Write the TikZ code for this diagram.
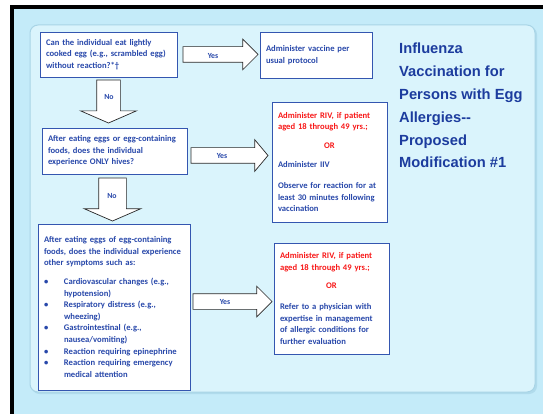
\documentclass[tikz,border=0pt]{standalone}
\usepackage{fontspec}
\setmainfont{Carlito}
\newfontfamily\headfont{Liberation Sans}
\usetikzlibrary{shapes.arrows}

\definecolor{txtblue}{RGB}{40,72,170}
\definecolor{headblue}{RGB}{28,60,158}
\definecolor{boxblue}{RGB}{52,86,176}
\definecolor{alertred}{RGB}{248,24,24}
\definecolor{slidebg}{RGB}{196,235,249}
\definecolor{panelbg}{RGB}{218,244,252}
\definecolor{panelrim}{RGB}{168,212,230}
\definecolor{arrowrim}{RGB}{40,40,40}

\tikzset{
  box/.style={draw=boxblue, line width=0.9pt, fill=white, anchor=north west,
    outer sep=0pt, inner xsep=6pt, inner ysep=0pt, align=left, text=txtblue,
    font=\bfseries\fontsize{8.6}{11.6}\selectfont},
  barrow/.style={single arrow, draw=arrowrim, fill=white, line width=0.7pt,
    outer sep=0pt, minimum width=0pt, anchor=tail},
  lbl/.style={text=txtblue, font=\bfseries\fontsize{7.8}{9}\selectfont, inner sep=0pt},
}

\begin{document}
\begin{tikzpicture}[x=1pt,y=-1pt]
\useasboundingbox (0,0) rectangle (543,414);
% page, slide background and its black top and left edges
\fill[white] (0,0) rectangle (543,414);
\fill[slidebg] (13.5,9) rectangle (543,414);
\fill[black] (10,5) rectangle (543,9);
\fill[black] (10,5) rectangle (13.5,414);
% rounded content panel with a soft rim below
\fill[panelrim!70!slidebg, rounded corners=8pt] (31.5,26.5) rectangle (537,394);
\draw[panelrim, line width=1pt, fill=panelbg, rounded corners=8pt] (30,25) rectangle (535,392);

% decision and action boxes
\node[box, minimum width=137pt, minimum height=45pt, text width=125pt] (q1) at (40,32)
  {Can the individual eat lightly\\cooked egg (e.g., scrambled egg)\\without reaction?*\textdagger};
\node[box, minimum width=112pt, minimum height=46pt, text width=100pt] (a1) at (260,32)
  {Administer vaccine per\\usual protocol};
\node[box, minimum width=145pt, minimum height=46pt, text width=133pt] (q2) at (42,128)
  {After eating eggs or egg-containing\\foods, does the individual\\experience ONLY hives?};
\node[box, minimum width=152pt, minimum height=166pt, text width=140pt] (q3) at (38,224)
  {After eating eggs of egg-containing\\foods, does the individual experience\\other symptoms such as:\\[7pt]
   \makebox[20pt][l]{\textbullet}Cardiovascular changes (e.g.,\\
   \hspace*{20pt}hypotension)\\
   \makebox[20pt][l]{\textbullet}Respiratory distress (e.g.,\\
   \hspace*{20pt}wheezing)\\
   \makebox[20pt][l]{\textbullet}Gastrointestinal (e.g.,\\
   \hspace*{20pt}nausea/vomiting)\\
   \makebox[20pt][l]{\textbullet}Reaction requiring epinephrine\\
   \makebox[20pt][l]{\textbullet}Reaction requiring emergency\\
   \hspace*{20pt}medical attention};
\node[box, minimum width=115pt, minimum height=120pt, text width=103pt] (a2) at (272,102)
  {{\color{alertred}Administer RIV, if patient\\aged 18 through 49 yrs.;\\[7pt]
   \hspace*{\fill}OR\hspace*{\fill}}\\[8pt]
   Administer IIV\\[9pt]
   Observe for reaction for at\\least 30 minutes following\\vaccination};
\node[box, minimum width=115pt, minimum height=111pt, text width=103pt] (a3) at (274,243)
  {{\color{alertred}Administer RIV, if patient\\aged 18 through 49 yrs.;\\[7pt]
   \hspace*{\fill}OR\hspace*{\fill}}\\[9pt]
   Refer to a physician with\\expertise in management\\of allergic conditions for\\further evaluation};

% block arrows between the boxes
\node[barrow, inner sep=7.5pt, single arrow head extend=7.5pt, single arrow tip angle=90,
  minimum height=75pt] (y1) at (183,54.5) {};
\node[barrow, inner sep=7.5pt, single arrow head extend=8pt, single arrow tip angle=100,
  minimum height=77pt] (y2) at (191,155.5) {};
\node[barrow, inner sep=7.5pt, single arrow head extend=7.5pt, single arrow tip angle=90,
  minimum height=79pt] (y3) at (193,301.5) {};
\node[barrow, inner sep=11.5pt, single arrow head extend=16pt, single arrow tip angle=133,
  shape border rotate=270, minimum height=43pt] (n1) at (108.5,80) {};
\node[barrow, inner sep=13.5pt, single arrow head extend=14.5pt, single arrow tip angle=133,
  shape border rotate=270, minimum height=43pt] (n2) at (112.5,178) {};

\node[lbl] (y1l) at (213,56) {Yes};
\node[lbl] (y2l) at (222,156) {Yes};
\node[lbl] (y3l) at (225,302) {Yes};
\node[lbl] (n1l) at (109,97) {No};
\node[lbl] (n2l) at (112,196) {No};

% title
\node[anchor=north west, inner sep=0pt, align=left, text=headblue,
  font=\headfont\bfseries\fontsize{14.7}{22.8}\selectfont] (title) at (399,43)
  {Influenza\\Vaccination for\\Persons with Egg\\Allergies--\\Proposed\\Modification \#1};
\end{tikzpicture}
\end{document}
